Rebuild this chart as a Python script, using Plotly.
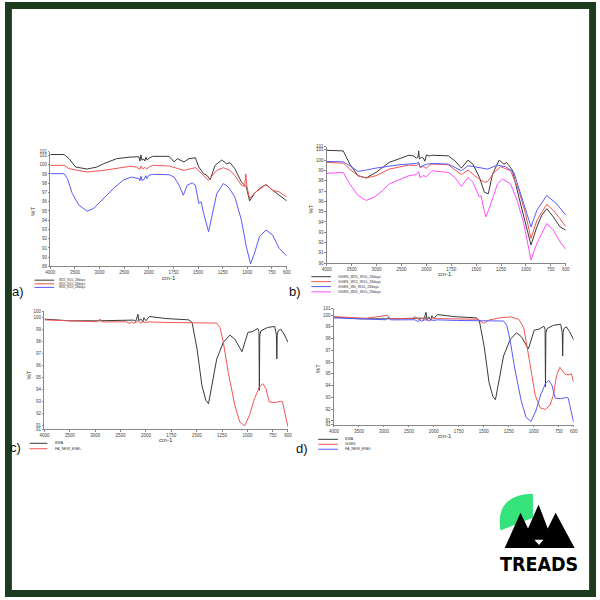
import numpy as np
import plotly.graph_objects as go

# ---------------- data ----------------
X_TICKS = [4000, 3500, 3000, 2500, 2000, 1750, 1500, 1250, 1000, 750, 600]

# panel a
A_NAMES = ["W25_N10_28days", "W15_N10_28days", "W35_N10_28days"]
A_BLACK_W = [4000,3720,3620,3487,3253,3053,2920,2653,2387,2300,2200,2180,2160,2140,2100,2080,2060,2030,2000,1960,
             1793,1743,1710,1643,1593,1527,1493,1443,1410,1377,1327,1260,1210,1177,1127,1060,1010,977,927,877,810,743,677,600]
A_BLACK_T = [101.1,101.1,100.65,99.75,99.53,99.75,100.1,100.65,100.82,100.8,100.85,100.4,101.05,100.5,100.6,100.4,100.8,100.5,100.7,100.9,
             100.9,100.29,100.65,100.29,100.65,100.75,99.75,99.03,98.85,98.39,99.93,100.5,100.11,100.22,99.57,98.14,97.6,96.09,96.88,97.42,97.85,97.24,96.7,96.09]
A_RED_W = [4000,3720,3620,3253,2920,2387,2253,2180,2160,2120,2080,2040,2000,1960,1793,1643,1527,1460,1410,1393,
           1310,1243,1177,1127,1060,1027,1015,1005,977,927,877,810,743,677,600]
A_RED_T = [99.93,99.93,99.57,99.21,99.39,99.82,99.75,99.5,99.85,99.55,99.7,99.5,99.75,99.93,99.86,99.39,99.68,99.03,98.5,98.32,
           99.39,99.68,99.39,98.85,97.78,97.67,99.0,97.7,96.34,96.95,97.31,97.85,97.24,97.06,96.52]
A_BLUE_W = [4000,3720,3653,3553,3420,3253,3120,2920,2720,2520,2353,2300,2200,2180,2160,2140,2100,2060,2040,2000,
            1960,1793,1743,1693,1650,1610,1560,1527,1493,1470,1443,1393,1360,1310,1243,1193,1127,1060,1010,967,927,877,810,743,677,600]
A_BLUE_T = [99.03,99.03,98.49,96.88,95.63,94.98,95.27,96.34,97.42,98.32,98.67,98.6,98.5,98.25,98.75,98.3,98.4,98.8,98.5,98.85,
            98.96,98.92,98.67,97.78,96.7,97.78,98.03,97.78,95.81,95.99,94.73,92.76,94.37,96.88,97.96,97.6,96.52,94.01,91.15,89.28,90.43,92.22,92.94,92.4,90.97,90.14]

# panel b
B_NAMES = ["GGBS_W25_W10_28days", "GGBS_W15_W10_28days", "GGBS_W0_W10_28days", "GGBS_W05_W10_28days"]
B_BLACK_W = [4000,3670,3538,3374,3209,3011,2747,2352,2250,2200,2170,2154,2140,2100,2060,2030,2000,1970,1945,1780,
             1714,1648,1582,1533,1467,1418,1378,1335,1269,1220,1193,1137,1071,1005,949,890,841,791,725,659,600]
B_BLACK_T = [100.96,100.9,99.62,98.49,98.27,98.81,99.78,100.48,100.4,100.2,100.3,100.9,100.1,100.3,100.2,99.9,100.5,100.4,100.48,100.42,
             99.94,99.23,100.0,99.62,98.33,96.89,96.73,98.65,100.0,99.62,99.78,99.04,96.41,93.85,91.76,93.53,94.65,95.29,94.49,93.53,93.21]
B_RED_W = [4000,3670,3538,3374,3209,3011,2747,2352,2200,2154,2120,2060,2000,1970,1945,1780,1648,1582,1516,1418,
           1385,1319,1253,1154,1071,1005,949,890,791,725,659,600]
B_RED_T = [99.78,99.71,99.13,98.49,98.27,98.49,99.13,99.52,99.46,99.7,99.3,99.4,99.2,99.5,99.62,99.55,98.59,99.04,98.49,97.85,
           97.92,98.81,99.36,98.97,97.05,94.81,92.4,94.17,95.71,95.13,94.33,93.53]
B_BLUE_W = [4000,3670,3538,3374,3209,3011,2549,2200,2154,2130,2060,2000,1945,1780,1648,1582,1516,1385,1286,1203,
            1121,1055,1005,949,890,791,692,600]
B_BLUE_T = [99.87,99.84,99.46,98.91,99.04,99.23,99.55,99.68,99.8,99.3,99.5,99.6,99.68,99.62,98.97,99.46,99.36,99.13,99.52,99.36,
            98.81,96.73,95.13,93.53,95.13,96.57,95.77,94.65]
B_MAG_W = [4000,3670,3538,3374,3209,3044,2879,2747,2352,2200,2154,2130,2060,2000,1945,1780,1714,1648,1582,1533,
           1467,1451,1418,1401,1352,1286,1236,1154,1088,1022,949,890,824,791,725,659,600]
B_MAG_T = [98.72,98.81,97.69,96.57,96.09,96.41,97.05,97.69,98.49,98.6,98.9,98.3,98.5,98.4,98.97,98.81,98.33,97.44,98.33,97.85,
           96.41,96.57,95.0,94.49,95.77,97.69,98.17,97.69,96.09,93.85,90.32,91.92,93.21,93.85,93.21,92.08,91.35]

# panels c and d (shared samples)
BWA_W = [4000,3483,2965,2383,2250,2200,2157,2140,2100,2060,2040,2000,1965,1803,1577,1545,1496,1448,1409,1383,
         1351,1302,1237,1173,1124,1053,995,946,898,886,882,878,866,801,730,714,710,706,697,672,639,600]
BWA_T = [99.83,99.69,99.69,99.77,99.75,99.65,100.24,99.7,99.85,99.6,99.95,99.7,100.05,99.88,99.77,99.55,97.34,94.31,93.07,92.79,
         94.31,96.52,97.9,98.5,98.17,97.12,98.72,98.81,99.06,98.8,93.9,98.5,98.86,99.14,99.22,98.5,96.52,98.5,98.86,99.0,98.59,97.9]
FA_W = [4000,2965,2900,2860,2383,2318,2290,2250,2200,2157,2100,2060,2000,1965,1771,1448,1302,1270,1237,1189,
        1124,1076,1027,979,930,882,849,817,785,730,672,655,633,600]
FA_T = [99.77,99.61,99.83,99.6,99.61,99.45,99.6,99.5,99.55,99.7,99.5,99.6,99.55,99.6,99.55,99.5,99.5,99.14,97.9,95.41,
        92.66,91.28,90.94,91.83,93.21,94.17,94.45,94.03,92.93,92.88,92.99,92.95,92.1,90.86]
GGBS_W = [4000,3356,2928,2900,2830,2435,2369,2300,2172,2150,2100,2060,2040,2000,1889,1560,1501,1445,1330,1231,
          1149,1100,1034,985,935,886,837,804,771,738,689,656,623,600]
GGBS_T = [99.87,99.73,99.99,99.75,99.7,99.7,99.87,99.6,99.85,99.5,99.75,99.55,99.8,99.7,99.7,99.65,99.31,99.59,99.79,99.85,
          99.65,98.94,95.7,93.17,92.1,91.96,92.32,93.17,94.86,95.56,95.0,94.92,95.0,94.3]

BLACK, RED, BLUE, MAG = "#3a3a3a", "#f25555", "#5a5aff", "#ff4dff"
W, H = 600, 600


def xu(w):
    """FTIR split wavenumber scale: 500 cm-1 per unit above 2000, 250 below."""
    w = np.asarray(w, dtype=float)
    return np.where(w >= 2000, (4000 - w) / 500.0, 4 + (2000 - w) / 250.0)


def px(x):
    return x / W


def py(y):
    return 1 - y / H


panels = [
    dict(dom_x=(46, 286), dom_y=(151, 266.7), yr=(89, 101.4),
         yt=list(range(89, 102)) + [101.4],
         series=[(A_BLACK_W, A_BLACK_T, BLACK), (A_RED_W, A_RED_T, RED), (A_BLUE_W, A_BLUE_T, BLUE)],
         names=A_NAMES, leg_x=(30, 50, 53), leg_y=[280.5, 284.2, 287.8], leg_fs=3.2,
         label="a)", lab_xy=(13, 292), ylab_xy=(29, 211), xlab_xy=(166, 278)),
    dict(dom_x=(326.7, 569.3), dom_y=(146, 263.3), yr=(90, 101.3),
         yt=list(range(90, 102)) + [101.3],
         series=[(B_BLACK_W, B_BLACK_T, BLACK), (B_RED_W, B_RED_T, RED), (B_BLUE_W, B_BLUE_T, BLUE), (B_MAG_W, B_MAG_T, MAG)],
         names=B_NAMES, leg_x=(311, 331, 336), leg_y=[277, 282, 287, 292.3], leg_fs=3.6,
         label="b)", lab_xy=(294, 292), ylab_xy=(311, 209), xlab_xy=(447, 274.5)),
    dict(dom_x=(40, 287.3), dom_y=(311.7, 430.7), yr=(90.67, 100.5),
         yt=[90.67] + list(range(91, 101)) + [100.5],
         series=[(BWA_W, BWA_T, BLACK), (FA_W, FA_T, RED)],
         names=["BWA", "FA_NEW_ENEL"], leg_x=(25, 43, 49), leg_y=[445, 450.5], leg_fs=3.6,
         label="c)", lab_xy=(11, 449), ylab_xy=(24, 376), xlab_xy=(163, 442)),
    dict(dom_x=(334, 577.3), dom_y=(309.3, 426.3), yr=(90.66, 100.55),
         yt=[90.66] + list(range(91, 101)) + [100.55],
         series=[(BWA_W, BWA_T, BLACK), (GGBS_W, GGBS_T, RED), (FA_W, FA_T, BLUE)],
         names=["BWA", "GGBS", "FA_NEW_ENEL"], leg_x=(318, 338, 343), leg_y=[441, 446, 451], leg_fs=3.6,
         label="d)", lab_xy=(302, 450), ylab_xy=(318, 370), xlab_xy=(447, 438)),
]

fig = go.Figure()
shapes = []
annos = []
FONT = "Arial, Liberation Sans, sans-serif"

for i, p in enumerate(panels):
    sfx = "" if i == 0 else str(i + 1)
    for (wv, tv, col) in p["series"]:
        fig.add_trace(go.Scatter(x=xu(wv), y=tv, mode="lines", line=dict(color=col, width=1),
                                 xaxis="x" + sfx, yaxis="y" + sfx, showlegend=False, hoverinfo="skip"))
    ax = dict(domain=[px(p["dom_x"][0]), px(p["dom_x"][1])], anchor="y" + sfx, range=[0, 9.6],
              tickvals=list(xu(X_TICKS)), ticktext=[str(t) for t in X_TICKS],
              showgrid=False, zeroline=False, showline=True, linecolor="#888", linewidth=1,
              ticks="outside", ticklen=1.5, tickcolor="#888", tickwidth=1,
              tickfont=dict(size=4.5, color="#444", family=FONT))
    ay = dict(domain=[py(p["dom_y"][1]), py(p["dom_y"][0])], anchor="x" + sfx, range=list(p["yr"]),
              tickvals=p["yt"], ticktext=[str(int(round(v))) for v in p["yt"]],
              showgrid=False, zeroline=False, showline=True, linecolor="#888", linewidth=1,
              ticks="outside", ticklen=1.5, tickcolor="#888", tickwidth=1,
              tickfont=dict(size=4.5, color="#444", family=FONT))
    fig.update_layout(**{"xaxis" + sfx: ax, "yaxis" + sfx: ay})

    # legend (manual, tiny)
    x0, x1, xt = p["leg_x"]
    for (wv, tv, col), nm, ly in zip(p["series"], p["names"], p["leg_y"]):
        shapes.append(dict(type="line", xref="paper", yref="paper", x0=px(x0), x1=px(x1), y0=py(ly), y1=py(ly),
                           line=dict(color=col, width=1)))
        annos.append(dict(text=nm, xref="paper", yref="paper", x=px(xt), y=py(ly), xanchor="left", yanchor="middle",
                          showarrow=False, font=dict(size=p["leg_fs"], color="#333", family=FONT)))
    # panel label
    annos.append(dict(text=p["label"], xref="paper", yref="paper", x=px(p["lab_xy"][0]), y=py(p["lab_xy"][1]),
                      xanchor="center", yanchor="middle", showarrow=False,
                      font=dict(size=13, color="#111", family=FONT)))
    annos.append(dict(text="%T", xref="paper", yref="paper", x=px(p["ylab_xy"][0]), y=py(p["ylab_xy"][1]),
                      xanchor="center", yanchor="middle", showarrow=False, textangle=-90,
                      font=dict(size=6, color="#333", family=FONT)))
    annos.append(dict(text="cm-1", xref="paper", yref="paper", x=px(p["xlab_xy"][0]), y=py(p["xlab_xy"][1]),
                      xanchor="center", yanchor="middle", showarrow=False,
                      font=dict(size=6, color="#333", family=FONT)))

# frame
FR = "#1d3b1e"
for (a, b, c, d) in [(0, 0, 600, 7), (0, 593, 600, 600), (0, 0, 7, 600), (593, 0, 600, 600)]:
    shapes.append(dict(type="rect", xref="paper", yref="paper", x0=px(a), x1=px(c), y0=py(d), y1=py(b),
                       fillcolor=FR, line=dict(width=0), layer="above"))


def path(pts):
    return "M " + " L ".join(f"{px(x):.5f},{py(y):.5f}" for x, y in pts) + " Z"


# logo: green leaf
leaf = (f"M {px(503):.5f},{py(533):.5f} Q {px(497):.5f},{py(497):.5f} {px(536):.5f},{py(496):.5f} "
        f"L {px(536):.5f},{py(520):.5f} Z")
shapes.append(dict(type="path", xref="paper", yref="paper", path=leaf, fillcolor="#35e37b", line=dict(width=0)))
# mountains
shapes.append(dict(type="path", xref="paper", yref="paper",
                   path=path([(507.3, 550.7), (523.3, 515), (531, 531), (541.7, 506.7), (551, 531),
                              (559, 515), (578.3, 550.7)]),
                   fillcolor="#000", line=dict(width=0)))
shapes.append(dict(type="path", xref="paper", yref="paper",
                   path=path([(537.5, 542.3), (546.7, 542.3), (542.1, 547.5)]),
                   fillcolor="#fff", line=dict(width=0)))
annos.append(dict(text="<b>TREADS</b>", xref="paper", yref="paper", x=px(542.5), y=py(567.5), xanchor="center",
                  yanchor="middle", showarrow=False,
                  font=dict(size=19.5, color="#000",
                            family="Liberation Sans Narrow, DejaVu Sans Condensed, Arial Narrow, sans-serif")))

fig.update_layout(width=W, height=H, margin=dict(l=0, r=0, t=0, b=0), paper_bgcolor="white",
                  plot_bgcolor="white", shapes=shapes, annotations=annos, showlegend=False)
fig.write_html("out.html", config={"staticPlot": True, "displayModeBar": False},
               post_script="document.body.style.margin='0';document.body.style.overflow='hidden';")
